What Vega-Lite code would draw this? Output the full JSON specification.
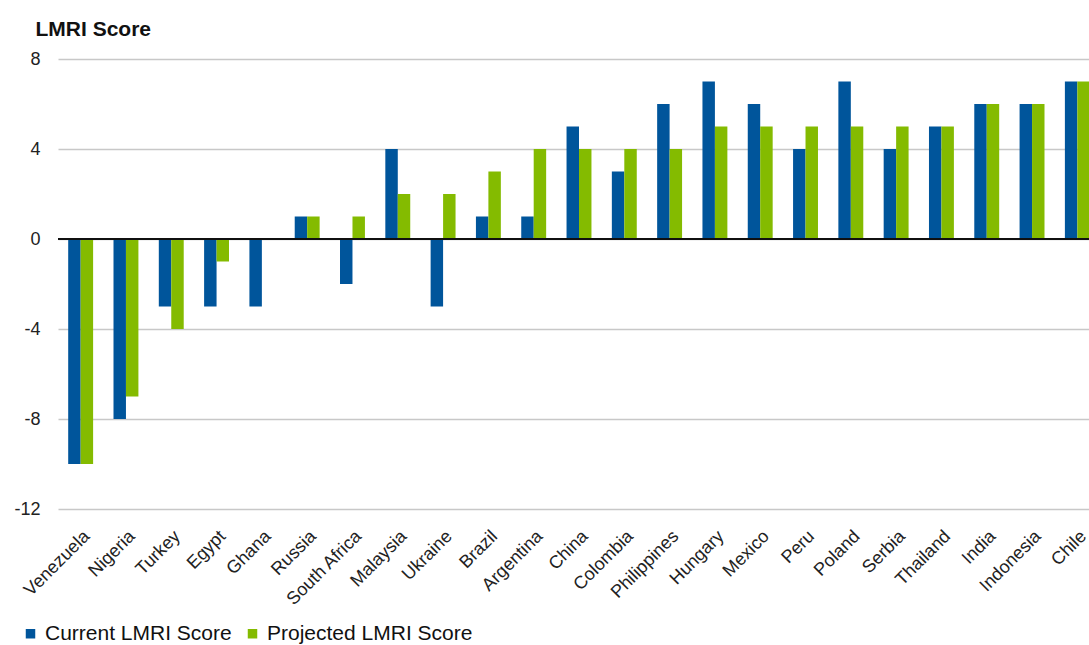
{
  "$schema": "https://vega.github.io/schema/vega-lite/v6.json",
  "autosize": "none",
  "width": 1031,
  "height": 450,
  "padding": {"left": 58, "top": 59, "right": 0, "bottom": 136},
  "background": "white",
  "config": {
    "font": "Liberation Sans, Arial, sans-serif",
    "view": {"stroke": null}
  },
  "data": {
    "values": [
      {"country": "Venezuela", "series": "Current LMRI Score", "score": -10},
      {"country": "Venezuela", "series": "Projected LMRI Score", "score": -10},
      {"country": "Nigeria", "series": "Current LMRI Score", "score": -8},
      {"country": "Nigeria", "series": "Projected LMRI Score", "score": -7},
      {"country": "Turkey", "series": "Current LMRI Score", "score": -3},
      {"country": "Turkey", "series": "Projected LMRI Score", "score": -4},
      {"country": "Egypt", "series": "Current LMRI Score", "score": -3},
      {"country": "Egypt", "series": "Projected LMRI Score", "score": -1},
      {"country": "Ghana", "series": "Current LMRI Score", "score": -3},
      {"country": "Ghana", "series": "Projected LMRI Score", "score": 0},
      {"country": "Russia", "series": "Current LMRI Score", "score": 1},
      {"country": "Russia", "series": "Projected LMRI Score", "score": 1},
      {"country": "South Africa", "series": "Current LMRI Score", "score": -2},
      {"country": "South Africa", "series": "Projected LMRI Score", "score": 1},
      {"country": "Malaysia", "series": "Current LMRI Score", "score": 4},
      {"country": "Malaysia", "series": "Projected LMRI Score", "score": 2},
      {"country": "Ukraine", "series": "Current LMRI Score", "score": -3},
      {"country": "Ukraine", "series": "Projected LMRI Score", "score": 2},
      {"country": "Brazil", "series": "Current LMRI Score", "score": 1},
      {"country": "Brazil", "series": "Projected LMRI Score", "score": 3},
      {"country": "Argentina", "series": "Current LMRI Score", "score": 1},
      {"country": "Argentina", "series": "Projected LMRI Score", "score": 4},
      {"country": "China", "series": "Current LMRI Score", "score": 5},
      {"country": "China", "series": "Projected LMRI Score", "score": 4},
      {"country": "Colombia", "series": "Current LMRI Score", "score": 3},
      {"country": "Colombia", "series": "Projected LMRI Score", "score": 4},
      {"country": "Philippines", "series": "Current LMRI Score", "score": 6},
      {"country": "Philippines", "series": "Projected LMRI Score", "score": 4},
      {"country": "Hungary", "series": "Current LMRI Score", "score": 7},
      {"country": "Hungary", "series": "Projected LMRI Score", "score": 5},
      {"country": "Mexico", "series": "Current LMRI Score", "score": 6},
      {"country": "Mexico", "series": "Projected LMRI Score", "score": 5},
      {"country": "Peru", "series": "Current LMRI Score", "score": 4},
      {"country": "Peru", "series": "Projected LMRI Score", "score": 5},
      {"country": "Poland", "series": "Current LMRI Score", "score": 7},
      {"country": "Poland", "series": "Projected LMRI Score", "score": 5},
      {"country": "Serbia", "series": "Current LMRI Score", "score": 4},
      {"country": "Serbia", "series": "Projected LMRI Score", "score": 5},
      {"country": "Thailand", "series": "Current LMRI Score", "score": 5},
      {"country": "Thailand", "series": "Projected LMRI Score", "score": 5},
      {"country": "India", "series": "Current LMRI Score", "score": 6},
      {"country": "India", "series": "Projected LMRI Score", "score": 6},
      {"country": "Indonesia", "series": "Current LMRI Score", "score": 6},
      {"country": "Indonesia", "series": "Projected LMRI Score", "score": 6},
      {"country": "Chile", "series": "Current LMRI Score", "score": 7},
      {"country": "Chile", "series": "Projected LMRI Score", "score": 7}
    ]
  },
  "layer": [
    {
      "mark": {"type": "bar", "clip": true},
      "encoding": {
        "x": {
          "field": "country",
          "type": "nominal",
          "sort": null,
          "scale": {"paddingInner": 0.45, "paddingOuter": 0.225, "range": [0, 1042]},
          "axis": {
            "title": null,
            "domain": false,
            "ticks": false,
            "labelAngle": -45,
            "labelFontSize": 18,
            "labelColor": "#222222",
            "labelPadding": 18,
            "labelOffset": 0,
            "labelOverlap": false
          }
        },
        "xOffset": {
          "field": "series",
          "type": "nominal",
          "sort": ["Current LMRI Score", "Projected LMRI Score"]
        },
        "y": {
          "field": "score",
          "type": "quantitative",
          "scale": {"domain": [-12, 8], "nice": false},
          "axis": {
            "values": [-12, -8, -4, 0, 4, 8],
            "labelExpr": "'' + datum.value",
            "title": "LMRI Score",
            "titleAngle": 0,
            "titleAlign": "left",
            "titleBaseline": "alphabetic",
            "titleX": -23,
            "titleY": -24,
            "titleFontSize": 21,
            "titleFontWeight": "bold",
            "titleColor": "#111111",
            "domain": false,
            "ticks": false,
            "labelFontSize": 18,
            "labelColor": "#222222",
            "labelPadding": 18,
            "gridColor": "#c8c8c8",
            "gridWidth": 1.5
          }
        },
        "color": {
          "field": "series",
          "type": "nominal",
          "scale": {
            "domain": ["Current LMRI Score", "Projected LMRI Score"],
            "range": ["#00559b", "#84bb00"]
          },
          "legend": {
            "title": null,
            "orient": "none",
            "direction": "horizontal",
            "legendX": -38,
            "legendY": 564,
            "padding": 0,
            "symbolType": "square",
            "symbolSize": 90,
            "symbolStrokeWidth": 0,
            "labelFontSize": 21,
            "labelLimit": 0,
            "labelColor": "#111111",
            "columnPadding": 10,
            "labelOffset": 4
          }
        }
      }
    },
    {
      "mark": {"type": "rule", "color": "#111111", "strokeWidth": 1.5},
      "encoding": {"y": {"datum": 0, "type": "quantitative"}}
    }
  ]
}
